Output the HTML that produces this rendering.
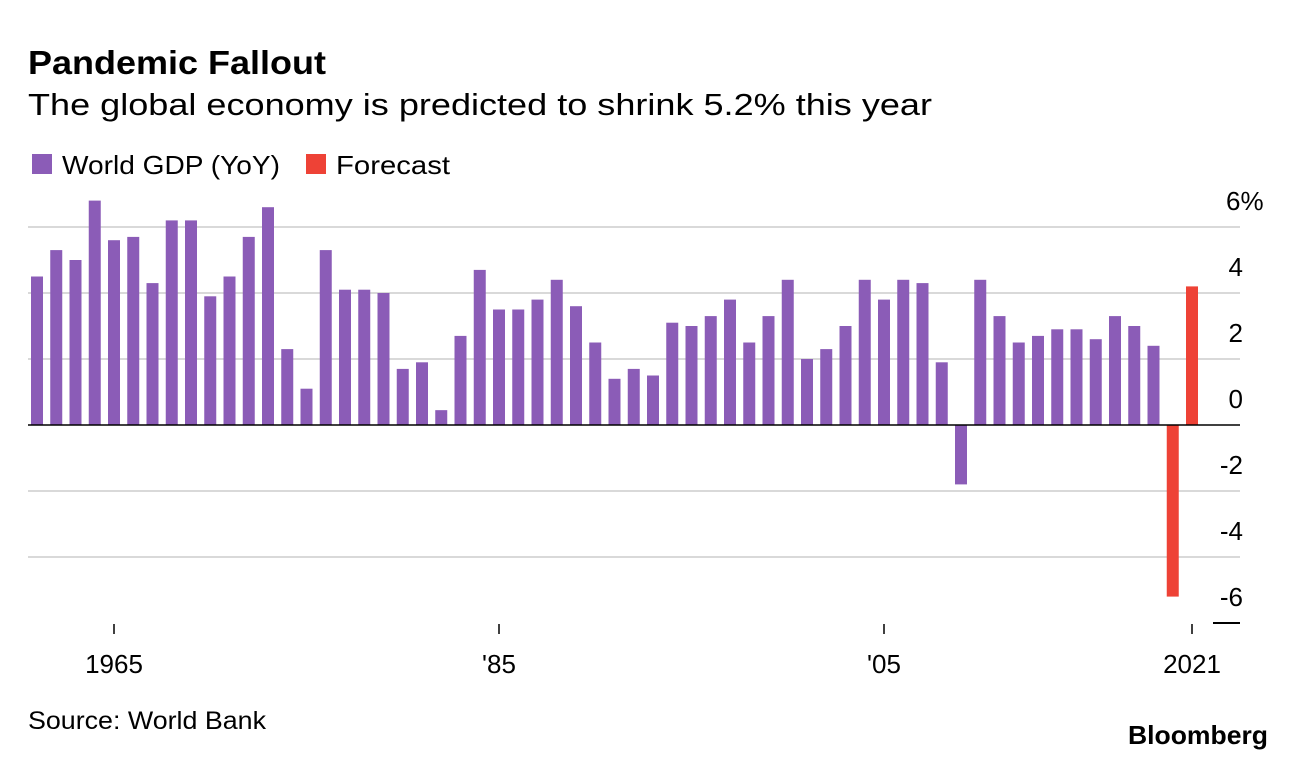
<!DOCTYPE html>
<html><head><meta charset="utf-8"><style>
body{margin:0;background:#fff;width:1296px;height:760px;overflow:hidden;font-family:"Liberation Sans",Arial,sans-serif}
</style></head><body>
<svg width="1296" height="760" xmlns="http://www.w3.org/2000/svg" font-family="Liberation Sans, Arial, sans-serif">
<text x="28" y="74" font-size="33" font-weight="bold" fill="#000" textLength="298" lengthAdjust="spacingAndGlyphs">Pandemic Fallout</text>
<text x="28" y="115" font-size="31" fill="#000" textLength="904" lengthAdjust="spacingAndGlyphs">The global economy is predicted to shrink 5.2% this year</text>
<g>
<rect x="32" y="154" width="20" height="20" fill="#8b5cb7"/>
<text x="62" y="174" font-size="26" textLength="218" lengthAdjust="spacingAndGlyphs">World GDP (YoY)</text>
<rect x="306" y="154" width="20" height="20" fill="#ee4236"/>
<text x="336" y="174" font-size="26" textLength="114" lengthAdjust="spacingAndGlyphs">Forecast</text>
</g>
<g id="plot"></g>
<text x="28" y="729" font-size="25" textLength="238" lengthAdjust="spacingAndGlyphs">Source: World Bank</text>
<text x="1128" y="744" font-size="26" font-weight="bold" textLength="140" lengthAdjust="spacingAndGlyphs">Bloomberg</text>
</svg>
<script>
const years=[];for(let y=1961;y<=2021;y++)years.push(y);
const gdp=[4.5,5.3,5.0,6.8,5.6,5.7,4.3,6.2,6.2,3.9,4.5,5.7,6.6,2.3,1.1,5.3,4.1,4.1,4.0,1.7,1.9,0.45,2.7,4.7,3.5,3.5,3.8,4.4,3.6,2.5,1.4,1.7,1.5,3.1,3.0,3.3,3.8,2.5,3.3,4.4,2.0,2.3,3.0,4.4,3.8,4.4,4.3,1.9,-1.8,4.4,3.3,2.5,2.7,2.9,2.9,2.6,3.3,3.0,2.4,-5.2,4.2];
const forecastYears=[2020,2021];
const yTicks=[6,4,2,0,-2,-4,-6];
const xTickYears=[1965,1985,2005,2021];
const xTickLabels=["1965","'85","'05","2021"];
const NS="http://www.w3.org/2000/svg";
const g=document.getElementById('plot');
const xs=y=>37+(y-1961)*19.25;
const ys=v=>425-v*33;
function mk(t,a){const e=document.createElementNS(NS,t);for(const k in a)e.setAttribute(k,a[k]);g.appendChild(e);return e;}
yTicks.forEach(v=>{
 if(v!==0&&v!==-6){const l=mk('line',{x1:28,x2:1240,y1:ys(v),y2:ys(v),stroke:'#d9d9d9','stroke-width':2});
 
 }
 const t=mk('text',{x:1243,y:ys(v)-17,'font-size':26,'text-anchor':'end'});
 t.textContent=String(v);
 if(v===6){const s=document.createElementNS(NS,'tspan');s.textContent='%';t.appendChild(s);t.setAttribute('text-anchor','start');t.setAttribute('x',1226);}
 
 
});
years.forEach((y,i)=>{
 const v=gdp[i];const f=forecastYears.includes(y);
 const r=mk('rect',{x:xs(y)-6,y:Math.min(ys(v),ys(0)),width:12,height:Math.abs(ys(v)-ys(0)),fill:f?'#ee4236':'#8b5cb7'});
 
 
});
const z=mk('line',{x1:28,x2:1240,y1:ys(0),y2:ys(0),stroke:'#000','stroke-width':1.5});


const b=mk('line',{x1:1213,x2:1240,y1:623,y2:623,stroke:'#000','stroke-width':2});


xTickYears.forEach((y,i)=>{
 const l=mk('line',{x1:xs(y),x2:xs(y),y1:624,y2:634,stroke:'#000','stroke-width':1.5});
 
 
 const t=mk('text',{x:xs(y),y:673,'font-size':26,'text-anchor':'middle'});
 t.textContent=xTickLabels[i];
 
 
});
</script>
</body></html>
